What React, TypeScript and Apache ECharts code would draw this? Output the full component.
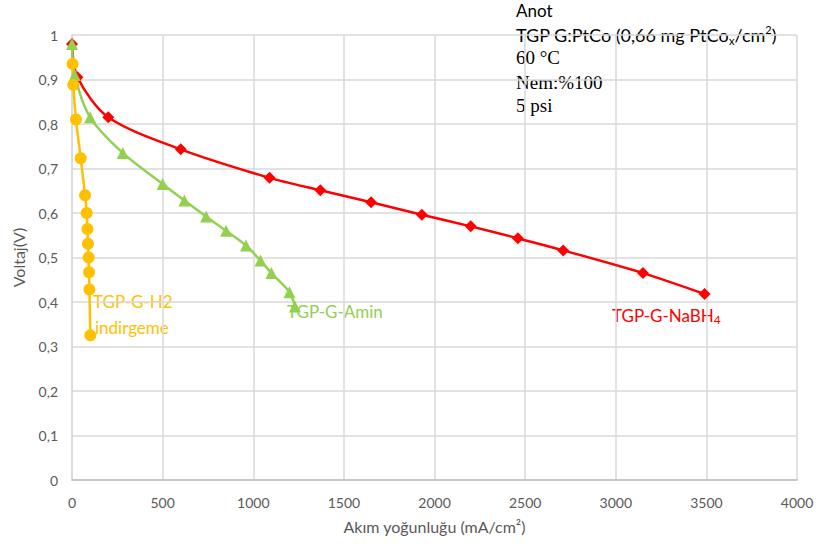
import React, { useEffect, useRef } from "react";
import * as echarts from "echarts";

const xTicks = { min: 0, max: 4000, interval: 500 };
const yTicks = { min: 0, max: 1, interval: 0.1 };

const nabhX = [0, 30, 200, 600, 1090, 1370, 1650, 1930, 2200, 2460, 2710, 3150, 3490];
const nabhY = [0.98, 0.905, 0.815, 0.743, 0.679, 0.651, 0.624, 0.596, 0.57, 0.543, 0.516, 0.465, 0.418];

const aminX = [0, 15, 100, 280, 500, 620, 740, 850, 960, 1040, 1100, 1200, 1230];
const aminY = [0.98, 0.91, 0.815, 0.735, 0.665, 0.628, 0.592, 0.56, 0.527, 0.493, 0.465, 0.422, 0.39];

const h2X = [3, 7, 22, 48, 72, 81, 85, 88, 92, 94, 96, 101];
const h2Y = [0.935, 0.888, 0.81, 0.723, 0.64, 0.6, 0.564, 0.531, 0.5, 0.467, 0.428, 0.325];

const zip = (xs: number[], ys: number[]) => xs.map((x, i) => [x, ys[i]]);

const sans = "Lato, 'Open Sans', sans-serif";
const serifF = "'Liberation Serif', 'DejaVu Serif', serif";

export default function App() {
  const ref = useRef<HTMLDivElement>(null);
  useEffect(() => {
    if (!ref.current) return;
    const chart = echarts.init(ref.current, undefined, { renderer: "svg" });
    const seriesLabel = (text: string, color: string, left: number, top: number) => ({
      type: "text",
      left,
      top,
      style: {
        text,
        fill: color,
        fontFamily: sans,
        fontSize: 17,
        lineHeight: 20,
        rich: {
          sub: { fontFamily: sans, fontSize: 12, lineHeight: 12, verticalAlign: "bottom", fill: color },
        },
      },
    });
    chart.setOption({
      animation: false,
      backgroundColor: "#ffffff",
      grid: { left: 72, right: 20, top: 35, bottom: 64, containLabel: false },
      xAxis: {
        type: "value",
        ...xTicks,
        axisLine: { show: true, lineStyle: { color: "#bfbfbf", width: 1.5 } },
        axisTick: { show: false },
        splitLine: { show: true, lineStyle: { color: "#d9d9d9", width: 1.5 } },
        axisLabel: {
          color: "#595959",
          fontFamily: sans,
          fontSize: 14,
          margin: 15,
          formatter: (v: number) => String(v),
        },
        name: "Akım yoğunluğu (mA/cm²)",
        nameLocation: "middle",
        nameGap: 38,
        nameTextStyle: { color: "#595959", fontFamily: sans, fontSize: 16 },
      },
      yAxis: {
        type: "value",
        ...yTicks,
        axisLine: { show: true, lineStyle: { color: "#d9d9d9", width: 1.5 } },
        axisTick: { show: false },
        splitLine: { show: true, lineStyle: { color: "#d9d9d9", width: 1.5 } },
        axisLabel: {
          color: "#595959",
          fontFamily: sans,
          fontSize: 14,
          margin: 14,
          formatter: (v: number) => String(Number(v.toFixed(1))).replace(".", ","),
        },
        name: "Voltaj(V)",
        nameLocation: "middle",
        nameGap: 46,
        nameTextStyle: { color: "#595959", fontFamily: sans, fontSize: 16 },
      },
      series: [
        {
          name: "TGP-G-NaBH4",
          type: "line",
          data: zip(nabhX, nabhY),
          smooth: 0.3,
          symbol: "diamond",
          symbolSize: 12,
          lineStyle: { color: "#ff0000", width: 2.5 },
          itemStyle: { color: "#ff0000" },
        },
        {
          name: "TGP-G-Amin",
          type: "line",
          data: zip(aminX, aminY),
          smooth: 0.3,
          symbol: "triangle",
          symbolSize: 12,
          lineStyle: { color: "#92d050", width: 2.5 },
          itemStyle: { color: "#92d050" },
        },
        {
          name: "TGP-G-H2 indirgeme",
          type: "line",
          data: zip(h2X, h2Y),
          smooth: 0.2,
          symbol: "circle",
          symbolSize: 12,
          lineStyle: { color: "#ffc000", width: 2.5 },
          itemStyle: { color: "#ffc000" },
        },
      ],
      graphic: [
        seriesLabel("TGP-G-H2", "#ffc000", 93, 291),
        seriesLabel("indirgeme", "#ffc000", 95, 317),
        seriesLabel("TGP-G-Amin", "#92d050", 287, 301),
        seriesLabel("TGP-G-NaBH{sub|4}", "#ff0000", 612, 305),
        { type: "text", left: 516, top: 2, style: { text: "Anot", fill: "#000000", fontFamily: sans, fontSize: 17 } },
        {
          type: "text",
          left: 516,
          top: 24,
          style: {
            text: "TGP G:PtCo (0,66 mg PtCo{sub|x}/cm{sup|2})",
            fill: "#000000",
            fontFamily: sans,
            fontSize: 18,
            lineHeight: 22,
            rich: {
              sub: { fontFamily: sans, fontSize: 11, lineHeight: 11, verticalAlign: "bottom", fill: "#000000" },
              sup: { fontFamily: sans, fontSize: 11, lineHeight: 11, verticalAlign: "top", fill: "#000000" },
            },
          },
        },
        { type: "text", left: 516, top: 48, style: { text: "60 °C", fill: "#000000", fontFamily: serifF, fontSize: 19 } },
        { type: "text", left: 516, top: 73, style: { text: "Nem:%100", fill: "#000000", fontFamily: serifF, fontSize: 19 } },
        { type: "text", left: 516, top: 96, style: { text: "5 psi", fill: "#000000", fontFamily: serifF, fontSize: 19 } },
      ],
    });
    return () => chart.dispose();
  }, []);
  return <div ref={ref} style={{ width: 817, height: 544, position: "absolute", left: 0, top: 0 }} />;
}
